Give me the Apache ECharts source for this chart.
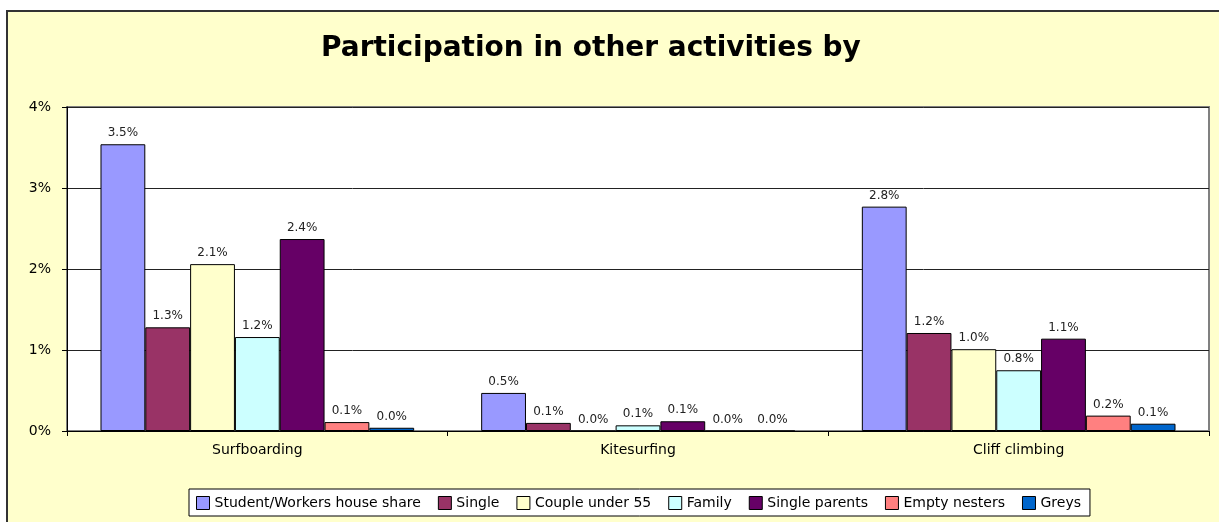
<!DOCTYPE html>
<html>
<head>
<meta charset="utf-8">
<script src="https://cdn.jsdelivr.net/npm/echarts@6/dist/echarts.min.js"></script>
<style>
  html, body { margin: 0; padding: 0; background: #fff; }
  #chart { width: 1219px; height: 522px; }
</style>
</head>
<body>
<div id="chart"></div>
<script>
const categories = ['Surfboarding', 'Kitesurfing', 'Cliff climbing']
const seriesNames = ['Student/Workers house share', 'Single', 'Couple under 55', 'Family', 'Single parents', 'Empty nesters', 'Greys']
// values in percent, one array per household type
const studentShare = [3.54, 0.47, 2.77]
const single = [1.28, 0.10, 1.21]
const coupleUnder55 = [2.06, 0, 1.01]
const family = [1.16, 0.07, 0.75]
const singleParents = [2.37, 0.12, 1.14]
const emptyNesters = [0.11, 0, 0.19]
const greys = [0.04, 0, 0.09]
const yTicks = [0, 1, 2, 3, 4]

const colors = ['#9999FF', '#993366', '#FFFFCC', '#CCFFFF', '#660066', '#FF8080', '#0066CC']
const allValues = [studentShare, single, coupleUnder55, family, singleParents, emptyNesters, greys]

const font = 'DejaVu Sans'
let chart = echarts.init(document.getElementById('chart'))

let series = seriesNames.map((name, i) => ({
  name: name,
  type: 'bar',
  data: allValues[i],
  barGap: 0,
  barCategoryGap: '17.6%',
  itemStyle: { color: colors[i], borderColor: '#000', borderWidth: 1 },
  label: {
    show: true,
    position: 'top',
    distance: 5,
    color: '#222',
    fontFamily: font,
    fontSize: 12,
    formatter: p => p.value.toFixed(1) + '%'
  },
  emphasis: { disabled: true }
}))

let option = {
  animation: false,
  backgroundColor: '#fff',
  graphic: [{
    type: 'rect',
    z: -10,
    shape: { x: 7, y: 11, width: 1230, height: 530 },
    style: { fill: '#FFFFCC', stroke: '#333', lineWidth: 2 }
  }],
  title: {
    text: 'Participation in other activities by',
    left: 316,
    top: 30,
    textStyle: { fontFamily: font, fontWeight: 'bold', fontSize: 28, color: '#000' }
  },
  grid: {
    left: 67,
    right: 10,
    top: 107,
    bottom: 91,
    show: true,
    backgroundColor: '#fff',
    borderColor: '#808080',
    borderWidth: 2
  },
  legend: {
    data: seriesNames,
    left: 189,
    top: 489,
    padding: [7, 9, 6, 7],
    backgroundColor: '#fff',
    borderColor: '#000',
    borderWidth: 1,
    itemWidth: 13,
    itemHeight: 13,
    itemGap: 17,
    itemTextGap: 2,
    icon: 'rect',
    itemStyle: { borderColor: '#000', borderWidth: 1 },
    textStyle: { fontFamily: font, fontSize: 14, color: '#000' }
  },
  xAxis: {
    type: 'category',
    data: categories,
    axisLine: { lineStyle: { color: '#000', width: 1 } },
    axisTick: { show: true, length: 5, lineStyle: { color: '#000' } },
    axisLabel: { margin: 12, color: '#000', fontFamily: font, fontSize: 14 }
  },
  yAxis: {
    type: 'value',
    min: yTicks[0],
    max: yTicks[yTicks.length - 1],
    interval: 1,
    axisLine: { show: true, lineStyle: { color: '#000', width: 1 } },
    axisTick: { show: true, length: 5, lineStyle: { color: '#000' } },
    axisLabel: { margin: 16, color: '#000', fontFamily: font, fontSize: 14, formatter: '{value}%' },
    splitLine: { lineStyle: { color: '#222', width: 1 } }
  },
  series: series
}
chart.setOption(option)
</script>
</body>
</html>
